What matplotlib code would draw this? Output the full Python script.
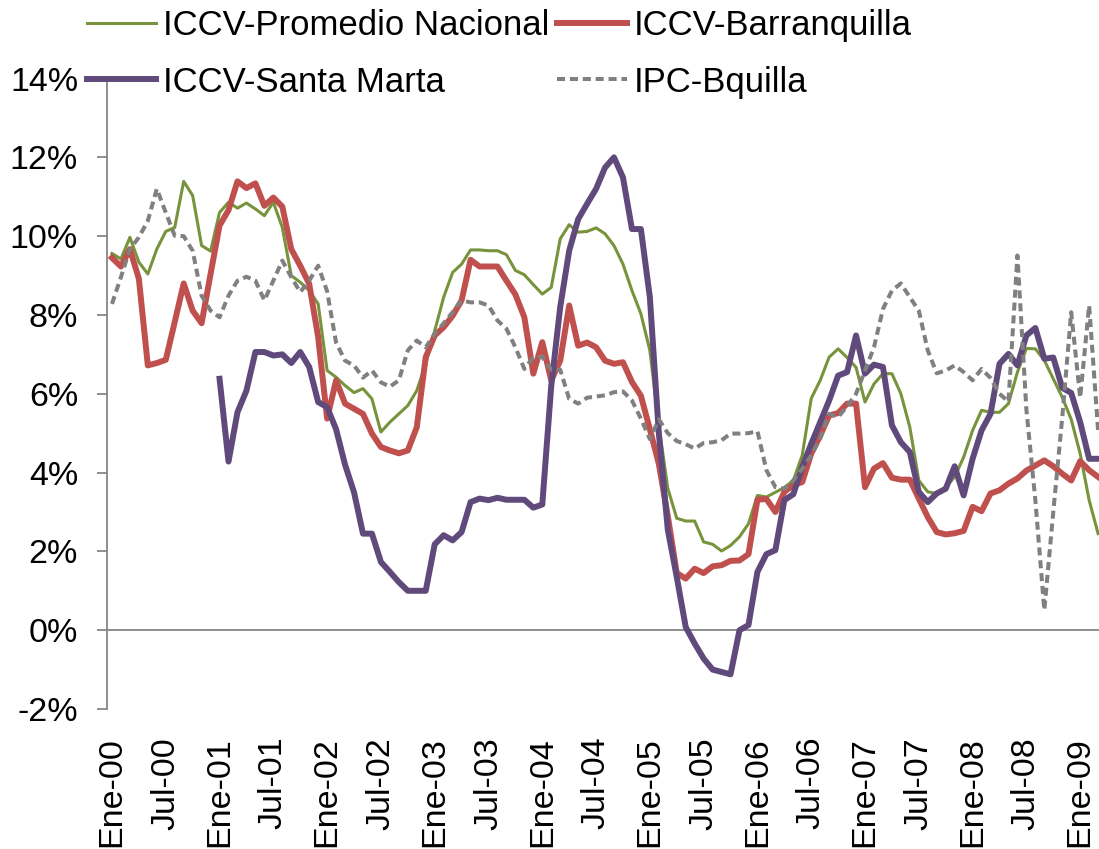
import numpy as np
import matplotlib.pyplot as plt

plt.rcParams['font.family'] = ['Liberation Sans', 'DejaVu Sans']

# monthly, Ene-2000 .. Mar-2009 (percent)
nacional = [9.56, 9.42, 9.97, 9.34, 9.04, 9.67, 10.12, 10.22, 11.39, 11.03, 9.76, 9.62,
            10.60, 10.86, 10.71, 10.84, 10.69, 10.52, 10.86, 10.22, 9.00, 8.83, 8.62, 8.28,
            6.59, 6.42, 6.21, 6.03, 6.13, 5.87, 5.03, 5.28, 5.49, 5.70, 6.08, 6.76,
            7.60, 8.45, 9.08, 9.29, 9.65, 9.65, 9.63, 9.63, 9.53, 9.13, 9.02, 8.77,
            8.53, 8.70, 9.93, 10.29, 10.10, 10.12, 10.21, 10.06, 9.76, 9.29, 8.62, 8.03,
            7.10, 5.20, 3.60, 2.84, 2.77, 2.77, 2.24, 2.18, 2.01, 2.15, 2.37, 2.70,
            3.42, 3.38, 3.50, 3.62, 3.80, 4.44, 5.88, 6.34, 6.93, 7.14, 6.92, 6.67,
            5.79, 6.25, 6.51, 6.51, 6.00, 5.15, 3.80, 3.51, 3.47, 3.63, 3.89, 4.39,
            5.07, 5.58, 5.53, 5.53, 5.75, 6.55, 7.15, 7.14, 6.85, 6.38, 5.91, 5.35,
            4.48, 3.30, 2.45]

barranquilla = [9.45, 9.23, 9.67, 8.92, 6.72, 6.78, 6.86, 7.82, 8.80, 8.11, 7.79, 9.04,
                10.27, 10.66, 11.39, 11.22, 11.34, 10.77, 10.98, 10.75, 9.67, 9.25, 8.79, 7.44,
                5.37, 6.34, 5.75, 5.62, 5.49, 4.99, 4.65, 4.56, 4.49, 4.56, 5.15, 6.93,
                7.48, 7.69, 7.98, 8.37, 9.40, 9.23, 9.23, 9.23, 8.87, 8.52, 7.94, 6.51,
                7.31, 6.34, 6.84, 8.24, 7.22, 7.30, 7.18, 6.84, 6.76, 6.80, 6.30, 5.95,
                5.10, 4.22, 2.90, 1.45, 1.31, 1.56, 1.45, 1.62, 1.65, 1.76, 1.77, 1.93,
                3.31, 3.33, 3.00, 3.51, 3.68, 3.76, 4.48, 4.94, 5.45, 5.51, 5.75, 5.75,
                3.63, 4.10, 4.24, 3.87, 3.82, 3.82, 3.34, 2.87, 2.49, 2.43, 2.46, 2.52,
                3.13, 3.02, 3.47, 3.55, 3.72, 3.85, 4.05, 4.18, 4.31, 4.16, 3.97, 3.80,
                4.29, 4.06, 3.89]

santa_marta = [np.nan] * 12 + [
                6.38, 4.28, 5.53, 6.08, 7.06, 7.06, 6.97, 7.00, 6.78, 7.06, 6.68, 5.79,
                5.66, 5.10, 4.20, 3.50, 2.45, 2.45, 1.73, 1.48, 1.22, 1.00, 1.00, 1.00,
                2.18, 2.41, 2.28, 2.49, 3.25, 3.34, 3.30, 3.36, 3.31, 3.31, 3.31, 3.11,
                3.19, 6.20, 8.20, 9.63, 10.43, 10.82, 11.20, 11.74, 12.00, 11.49, 10.18, 10.18,
                8.45, 5.00, 2.55, 1.35, 0.08, -0.34, -0.72, -1.00, -1.06, -1.12, 0.00, 0.13,
                1.48, 1.93, 2.03, 3.30, 3.45, 4.14, 4.73, 5.28, 5.83, 6.46, 6.55, 7.48,
                6.51, 6.74, 6.68, 5.20, 4.77, 4.52, 3.51, 3.25, 3.47, 3.59, 4.16, 3.42,
                4.35, 5.07, 5.49, 6.76, 7.01, 6.72, 7.48, 7.67, 6.89, 6.92, 6.15, 6.02,
                5.28, 4.35, 4.35]

ipc = [8.28, 8.96, 9.67, 9.97, 10.39, 11.20, 10.60, 10.01, 10.00, 9.63, 8.49, 8.11,
       7.94, 8.49, 8.87, 8.97, 8.87, 8.37, 8.87, 9.38, 8.96, 8.58, 8.87, 9.25,
       8.60, 7.30, 6.84, 6.72, 6.41, 6.59, 6.29, 6.18, 6.34, 7.10, 7.35, 7.18,
       7.52, 7.79, 8.07, 8.37, 8.32, 8.32, 8.24, 7.86, 7.65, 7.18, 6.63, 6.93,
       6.93, 6.61, 6.61, 5.87, 5.75, 5.90, 5.93, 5.96, 6.04, 6.06, 5.83, 5.37,
       4.85, 5.35, 5.00, 4.80, 4.72, 4.61, 4.75, 4.77, 4.82, 4.99, 4.99, 5.00,
       5.05, 4.06, 3.63, 3.59, 3.80, 4.10, 4.44, 4.86, 5.49, 5.41, 5.68, 6.00,
       6.59, 7.18, 8.15, 8.62, 8.80, 8.45, 8.11, 7.10, 6.52, 6.59, 6.72, 6.55,
       6.34, 6.63, 6.40, 6.00, 5.80, 9.51, 5.60, 3.30, 0.51, 3.00, 5.40, 8.07,
       5.90, 8.24, 5.07]

tick_labels = ["Ene-00", "Jul-00", "Ene-01", "Jul-01", "Ene-02", "Jul-02", "Ene-03",
               "Jul-03", "Ene-04", "Jul-04", "Ene-05", "Jul-05", "Ene-06", "Jul-06",
               "Ene-07", "Jul-07", "Ene-08", "Jul-08", "Ene-09"]

x = np.arange(len(nacional))

fig = plt.figure(figsize=(10.99, 8.49), dpi=100)
ax = fig.add_axes([0.0978, 0.1649, 0.9022, 0.7426])

l1, = ax.plot(x, nacional, color='#77933C', lw=2.2, zorder=3, label='ICCV-Promedio Nacional')
l2, = ax.plot(x, barranquilla, color='#C0504D', lw=4.3, zorder=4, label='ICCV-Barranquilla')
l3, = ax.plot(x, santa_marta, color='#604A7B', lw=4.3, zorder=5, label='ICCV-Santa Marta')
l4, = ax.plot(x, ipc, color='#808080', lw=2.9, ls=(0, (2.0, 1.2)), zorder=6, label='IPC-Bquilla')

ax.axhline(0, color='#868686', lw=1.3, zorder=2)

ax.set_xlim(-0.5, 110.1)
ax.set_ylim(-2, 14)
ax.set_yticks(np.arange(-2, 15, 2))
ax.set_yticklabels([f"{v}%" for v in range(-2, 15, 2)])
ax.set_xticks(np.arange(0, len(tick_labels) * 6, 6))
ax.set_xticklabels(tick_labels, rotation=90)

for s in ['top', 'right', 'bottom']:
    ax.spines[s].set_visible(False)
ax.spines['left'].set_color('#868686')
ax.spines['left'].set_linewidth(1.3)
ax.tick_params(axis='y', length=7.2, width=1.3, color='#868686', pad=14, labelsize=24.5)
ax.tick_params(axis='x', length=0, pad=20, labelsize=24.5)

fig.legend([l1, l3, l2, l4], [l1.get_label(), l3.get_label(), l2.get_label(), l4.get_label()],
           ncol=2, loc='upper left', bbox_to_anchor=(87 / 1099, 1 - 9 / 849),
           frameon=False, fontsize=25, borderpad=0, borderaxespad=0,
           handlelength=2.0, handletextpad=0.2, columnspacing=0.22, labelspacing=0.68)

fig.savefig('out.png', dpi=100)
